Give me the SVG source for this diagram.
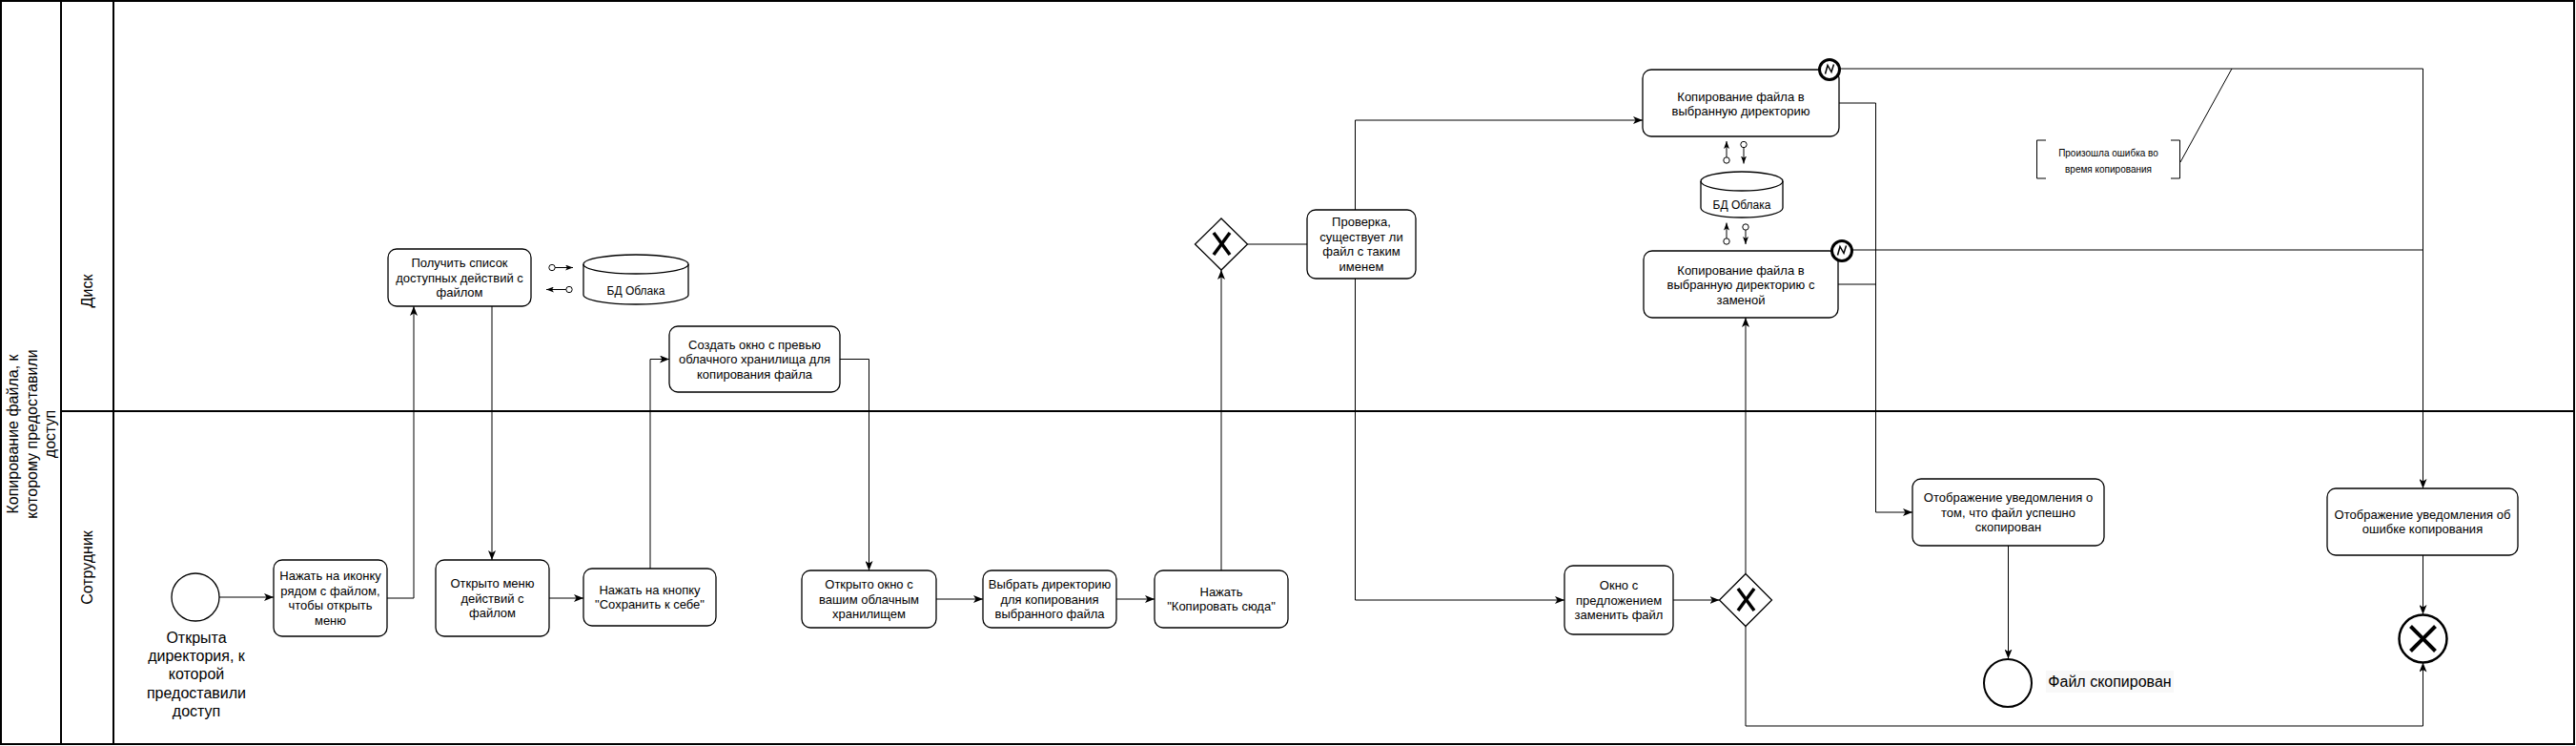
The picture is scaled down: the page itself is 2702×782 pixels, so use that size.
<svg xmlns="http://www.w3.org/2000/svg" width="2702" height="782" viewBox="0 0 2702 782">
<style>
.frame{fill:none;stroke:#000;stroke-width:2}
.task{fill:#fff;stroke:#000;stroke-width:1.3}
.t13{font-family:"Liberation Sans",Arial,Helvetica,sans-serif;font-size:13px;text-anchor:middle;fill:#000}
.t12{font-family:"Liberation Sans",Arial,Helvetica,sans-serif;font-size:12px;text-anchor:middle;fill:#000}
.t10{font-family:"Liberation Sans",Arial,Helvetica,sans-serif;font-size:10px;text-anchor:middle;fill:#000}
.t16{font-family:"Liberation Sans",Arial,Helvetica,sans-serif;font-size:16px;text-anchor:middle;fill:#000}
.flow{fill:none;stroke:#000;stroke-width:1;marker-end:url(#arr)}
.line{fill:none;stroke:#000;stroke-width:1}
.assoc{fill:none;stroke:#000;stroke-width:1;marker-start:url(#dot);marker-end:url(#sarr)}
.gw{fill:#fff;stroke:#000;stroke-width:1.3}
.gx{stroke:#000;stroke-width:3.5;stroke-linecap:butt}
.be{fill:#fff;stroke:#000;stroke-width:3}
.bolt{fill:none;stroke:#000;stroke-width:1.5;stroke-linejoin:miter}
</style>
<defs>
<marker id="arr" markerUnits="userSpaceOnUse" viewBox="0 0 10 8" refX="10" refY="4" markerWidth="10" markerHeight="8" orient="auto">
<path d="M0,0 L10,4 L0,8 L2.5,4 Z" fill="#000"/>
</marker>
<marker id="sarr" markerUnits="userSpaceOnUse" viewBox="0 0 8 6" refX="8" refY="3" markerWidth="8" markerHeight="6" orient="auto">
<path d="M0,0 L8,3 L0,6 L2,3 Z" fill="#000"/>
</marker>
<marker id="dot" markerUnits="userSpaceOnUse" viewBox="0 0 8 8" refX="4" refY="4" markerWidth="8" markerHeight="8" orient="auto">
<circle cx="4" cy="4" r="3.2" fill="#fff" stroke="#000" stroke-width="1"/>
</marker>
</defs>
<rect width="2702" height="782" fill="#fff"/>

<g id="pool">
<rect class="frame" x="1" y="1" width="2699" height="779"/>
<line class="frame" x1="64" y1="1" x2="64" y2="780"/>
<line class="frame" x1="119" y1="1" x2="119" y2="780"/>
<line class="frame" x1="64" y1="431" x2="2700" y2="431"/>
<text class="t16" transform="translate(33,455) rotate(-90)"><tspan x="0" y="-13.8">Копирование файла, к</tspan><tspan x="0" y="5.7">которому предоставили</tspan><tspan x="0" y="25.2">доступ</tspan></text>
</g>
<g id="lane-disk"><text class="t16" transform="translate(91,305) rotate(-90)" x="0" y="5.7">Диск</text></g>
<g id="lane-employee"><text class="t16" transform="translate(91,595) rotate(-90)" x="0" y="5.7">Сотрудник</text></g>

<g id="connectors">
<path class="flow" d="M230,626 L287,626"/>
<path class="flow" d="M406,627 L434,627 L434,321"/>
<path class="flow" d="M516,321 L516,587"/>
<path class="flow" d="M576,627 L612,627"/>
<path class="flow" d="M682,596 L682,376.5 L702,376.5"/>
<path class="flow" d="M881,376.5 L911.5,376.5 L911.5,598"/>
<path class="flow" d="M982,628 L1031,628"/>
<path class="flow" d="M1171,628 L1211,628"/>
<path class="flow" d="M1281,598 L1281,283"/>
<path class="line" d="M1308.5,256 L1371,256"/>
<path class="flow" d="M1421.5,220 L1421.5,126 L1723,126"/>
<path class="flow" d="M1421.5,292 L1421.5,629 L1641,629"/>
<path class="flow" d="M1755,629 L1803.5,629"/>
<path class="flow" d="M1831,601.5 L1831,333"/>
<path class="flow" d="M1831,656.5 L1831,761 L2541.5,761 L2541.5,694.5"/>
<path class="flow" d="M1929,108 L1967.5,108 L1967.5,537 L2006,537"/>
<path class="line" d="M1928,298 L1967.5,298"/>
<path class="flow" d="M1930.5,72 L2541.5,72 L2541.5,512"/>
<path class="line" d="M1943,262 L2541.5,262"/>
<path class="flow" d="M2106.5,572 L2106.5,690.5"/>
<path class="flow" d="M2541.5,582 L2541.5,644"/>
<path class="assoc" d="M579,280.5 L601,280.5"/>
<path class="assoc" d="M597,303.5 L573,303.5"/>
<path class="assoc" d="M1811,168 L1811,148"/>
<path class="assoc" d="M1829,151.5 L1829,171.5"/>
<path class="assoc" d="M1811,253 L1811,233.5"/>
<path class="assoc" d="M1831,238 L1831,256"/>
<path class="line" d="M2287,170 L2341,72"/>
</g>

<g id="start">
<circle cx="205" cy="626" r="25" fill="#fff" stroke="#000" stroke-width="1.3"/>
<text class="t16"><tspan x="206" y="673.9">Открыта</tspan><tspan x="206" y="693.1">директория, к</tspan><tspan x="206" y="712.3">которой</tspan><tspan x="206" y="731.5">предоставили</tspan><tspan x="206" y="750.7">доступ</tspan></text>
</g>

<g id="task-click-icon">
<rect class="task" x="287" y="587" width="119" height="80" rx="9"/>
<text class="t13"><tspan x="346.5" y="608.2">Нажать на иконку</tspan><tspan x="346.5" y="623.8">рядом с файлом,</tspan><tspan x="346.5" y="639.4">чтобы открыть</tspan><tspan x="346.5" y="655">меню</tspan></text>
</g>

<g id="task-menu-open">
<rect class="task" x="457" y="587" width="119" height="80" rx="9"/>
<text class="t13"><tspan x="516.5" y="616">Открыто меню</tspan><tspan x="516.5" y="631.6">действий с</tspan><tspan x="516.5" y="647.2">файлом</tspan></text>
</g>

<g id="task-save">
<rect class="task" x="612" y="596" width="139" height="60" rx="9"/>
<text class="t13"><tspan x="681.5" y="622.8">Нажать на кнопку</tspan><tspan x="681.5" y="638.4">"Сохранить к себе"</tspan></text>
</g>

<g id="task-get-actions">
<rect class="task" x="407" y="261" width="150" height="60" rx="9"/>
<text class="t13"><tspan x="482" y="280">Получить список</tspan><tspan x="482" y="295.6">доступных действий с</tspan><tspan x="482" y="311.2">файлом</tspan></text>
</g>

<g id="db1">
<path d="M612,277 A55,10 0 0 1 722,277 L722,309 A55,10 0 0 1 612,309 Z" fill="#fff" stroke="#000" stroke-width="1.3"/>
<path d="M612,277 A55,10 0 0 0 722,277" fill="none" stroke="#000" stroke-width="1.3"/>
<text class="t12" x="667" y="308.9">БД Облака</text>
</g>

<g id="task-create-window">
<rect class="task" x="702" y="342" width="179" height="69" rx="9"/>
<text class="t13"><tspan x="791.5" y="365.5">Создать окно с превью</tspan><tspan x="791.5" y="381.1">облачного хранилища для</tspan><tspan x="791.5" y="396.7">копирования файла</tspan></text>
</g>

<g id="task-window-open">
<rect class="task" x="841" y="598" width="141" height="60" rx="9"/>
<text class="t13"><tspan x="911.5" y="617">Открыто окно с</tspan><tspan x="911.5" y="632.6">вашим облачным</tspan><tspan x="911.5" y="648.2">хранилищем</tspan></text>
</g>

<g id="task-choose-dir">
<rect class="task" x="1031" y="598" width="140" height="60" rx="9"/>
<text class="t13"><tspan x="1101" y="617">Выбрать директорию</tspan><tspan x="1101" y="632.6">для копирования</tspan><tspan x="1101" y="648.2">выбранного файла</tspan></text>
</g>

<g id="task-copy-here">
<rect class="task" x="1211" y="598" width="140" height="60" rx="9"/>
<text class="t13"><tspan x="1281" y="624.8">Нажать</tspan><tspan x="1281" y="640.4">"Копировать сюда"</tspan></text>
</g>

<g id="gateway1">
<polygon class="gw" points="1281,229 1308.5,256 1281,283 1253.5,256"/>
<line class="gx" x1="1273" y1="244" x2="1290" y2="267"/>
<line class="gx" x1="1290" y1="244" x2="1273" y2="267"/>
</g>

<g id="task-check">
<rect class="task" x="1371" y="220" width="114" height="72" rx="9"/>
<text class="t13"><tspan x="1428" y="237.2">Проверка,</tspan><tspan x="1428" y="252.8">существует ли</tspan><tspan x="1428" y="268.4">файл с таким</tspan><tspan x="1428" y="284">именем</tspan></text>
</g>

<g id="task-copy">
<rect class="task" x="1723" y="73" width="206" height="70" rx="9"/>
<text class="t13"><tspan x="1826" y="105.8">Копирование файла в</tspan><tspan x="1826" y="121.4">выбранную директорию</tspan></text>
</g>

<g id="db2">
<path d="M1784,190 A43,10 0 0 1 1870,190 L1870,218 A43,10 0 0 1 1784,218 Z" fill="#fff" stroke="#000" stroke-width="1.3"/>
<path d="M1784,190 A43,10 0 0 0 1870,190" fill="none" stroke="#000" stroke-width="1.3"/>
<text class="t12" x="1827" y="219.2">БД Облака</text>
</g>

<g id="task-copy-replace">
<rect class="task" x="1724" y="263" width="204" height="70" rx="9"/>
<text class="t13"><tspan x="1826" y="287.5">Копирование файла в</tspan><tspan x="1826" y="303.1">выбранную директорию с</tspan><tspan x="1826" y="318.7">заменой</tspan></text>
</g>

<g id="error-event1">
<circle class="be" cx="1919" cy="73" r="10.5"/>
<polyline class="bolt" points="1914.5,77.5 1917,68.5 1921,75.5 1923.5,67.5"/>
</g>

<g id="error-event2">
<circle class="be" cx="1932" cy="263" r="10.5"/>
<polyline class="bolt" points="1927.5,267.5 1930,258.5 1934,265.5 1936.5,257.5"/>
</g>

<g id="task-replace-window">
<rect class="task" x="1641" y="593" width="114" height="72" rx="9"/>
<text class="t13"><tspan x="1698" y="618">Окно с</tspan><tspan x="1698" y="633.6">предложением</tspan><tspan x="1698" y="649.2">заменить файл</tspan></text>
</g>

<g id="gateway2">
<polygon class="gw" points="1831,601.5 1858.5,629 1831,656.5 1803.5,629"/>
<line class="gx" x1="1823" y1="617" x2="1840" y2="640"/>
<line class="gx" x1="1840" y1="617" x2="1823" y2="640"/>
</g>

<g id="task-success">
<rect class="task" x="2006" y="502" width="201" height="70" rx="9"/>
<text class="t13"><tspan x="2106.5" y="526">Отображение уведомления о</tspan><tspan x="2106.5" y="541.6">том, что файл успешно</tspan><tspan x="2106.5" y="557.2">скопирован</tspan></text>
</g>

<g id="end-copied">
<circle cx="2106" cy="716" r="25" fill="#fff" stroke="#000" stroke-width="2"/>
<rect x="2146" y="703" width="134" height="23" fill="#f8f8f8"/>
<text class="t16" x="2213" y="720">Файл скопирован</text>
</g>

<g id="task-error">
<rect class="task" x="2441" y="512" width="200" height="70" rx="9"/>
<text class="t13"><tspan x="2541" y="543.8">Отображение уведомления об</tspan><tspan x="2541" y="559.4">ошибке копирования</tspan></text>
</g>

<g id="end-error">
<circle cx="2541.5" cy="669.5" r="25" fill="#fff" stroke="#000" stroke-width="2.5"/>
<line x1="2528.5" y1="656.5" x2="2554.5" y2="682.5" stroke="#000" stroke-width="4"/>
<line x1="2554.5" y1="656.5" x2="2528.5" y2="682.5" stroke="#000" stroke-width="4"/>
</g>

<g id="annotation">
<path class="line" d="M2146,147 L2136.5,147 L2136.5,187 L2146,187"/>
<path class="line" d="M2277,147 L2286.5,147 L2286.5,187 L2277,187"/>
<text class="t10"><tspan x="2211.5" y="164">Произошла ошибка во</tspan><tspan x="2211.5" y="180.5">время копирования</tspan></text>
</g>
</svg>
